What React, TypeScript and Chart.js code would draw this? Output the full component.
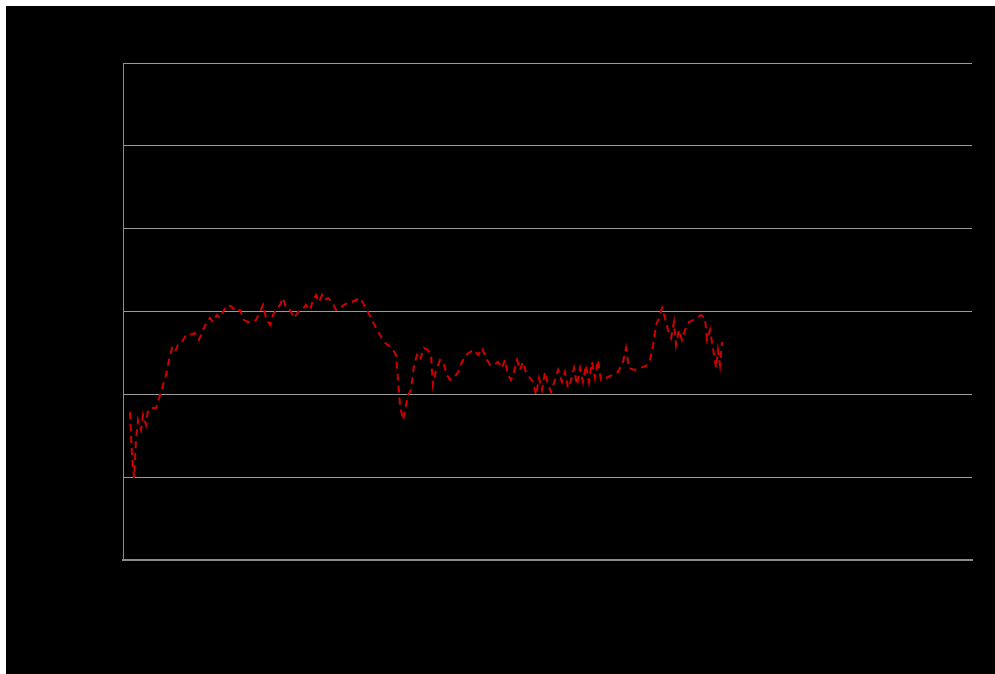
import React, { useEffect, useRef } from "react";
import { Chart, registerables } from "chart.js";

Chart.register(...registerables);

// x positions (percent of the horizontal axis) and values (0-60 scale)
const xValues: number[] = [
  0.82, 1.06, 1.30, 1.53, 1.77, 2.12, 2.36, 2.71, 2.94, 3.42, 3.89, 4.36, 4.71, 5.06, 5.42, 5.77, 6.12, 6.48, 6.95, 7.42,
  7.89, 8.48, 8.95, 9.42, 9.89, 10.25, 10.60, 11.07, 11.43, 11.90, 12.37, 12.84, 13.31, 13.78, 14.25, 14.72, 15.19, 15.66, 16.14, 16.49,
  16.84, 17.31, 17.67, 18.02, 18.49, 18.85, 19.20, 19.67, 20.14, 20.61, 21.08, 21.55, 22.03, 22.38, 22.73, 23.09, 23.44, 23.79, 24.15, 24.62,
  25.09, 25.56, 26.03, 26.50, 26.97, 27.44, 27.92, 28.39, 28.86, 29.33, 29.80, 30.27, 30.74, 31.21, 31.68, 32.16, 32.39, 32.63, 32.98, 33.22,
  33.57, 33.92, 34.28, 34.63, 34.98, 35.45, 35.92, 36.28, 36.51, 36.87, 37.34, 37.81, 38.16, 38.52, 38.99, 39.46, 39.93, 40.40, 40.87, 41.34,
  41.81, 42.29, 42.76, 43.23, 43.70, 44.17, 44.64, 44.99, 45.35, 45.70, 46.05, 46.41, 46.76, 47.11, 47.47, 47.94, 48.29, 48.65, 49.00, 49.35,
  49.71, 50.06, 50.41, 50.88, 51.24, 51.71, 52.06, 52.41, 52.77, 53.12, 53.47, 53.83, 54.18, 54.53, 54.89, 55.24, 55.59, 55.95, 56.30, 56.89,
  57.60, 58.30, 58.89, 59.25, 59.60, 60.19, 60.90, 61.60, 62.07, 62.43, 62.78, 63.13, 63.49, 63.84, 64.19, 64.55, 64.90, 65.14, 65.49, 65.84,
  66.20, 66.67, 67.14, 67.61, 68.08, 68.55, 68.79, 69.14, 69.49, 69.85, 70.08, 70.32, 70.55
];

const yValues: number[] = [
  17.87, 12.68, 9.90, 14.49, 16.90, 15.69, 17.51, 16.30, 18.11, 18.35, 18.35, 19.92, 21.13, 22.33, 24.15, 25.59, 25.11, 25.96, 26.32, 27.16,
  27.16, 27.41, 26.56, 27.77, 28.73, 29.22, 28.73, 29.58, 29.22, 30.18, 30.79, 30.54, 29.94, 30.18, 28.97, 28.73, 28.73, 28.97, 29.94, 30.79,
  29.22, 28.37, 29.58, 30.18, 30.79, 31.63, 30.42, 30.18, 29.22, 29.94, 30.18, 30.79, 30.18, 31.39, 31.99, 31.15, 31.99, 31.39, 31.63, 31.15,
  30.18, 30.42, 30.79, 31.03, 31.15, 31.39, 31.63, 30.79, 29.94, 28.97, 28.01, 27.16, 26.32, 25.96, 25.59, 24.75, 21.73, 18.71, 16.90, 18.11,
  19.92, 20.52, 23.54, 24.75, 24.15, 25.59, 25.35, 24.75, 21.13, 22.94, 24.15, 23.54, 22.33, 21.73, 21.97, 22.70, 23.90, 24.75, 25.11, 25.35,
  24.75, 25.59, 24.39, 23.54, 23.54, 23.90, 23.18, 24.15, 22.33, 21.73, 22.70, 24.15, 22.94, 23.90, 22.70, 21.97, 21.49, 19.92, 21.97, 20.52,
  22.70, 21.13, 20.28, 21.73, 22.94, 21.49, 22.70, 20.77, 21.73, 23.18, 21.13, 23.18, 21.49, 23.54, 21.49, 23.90, 21.97, 24.15, 21.73, 21.97,
  22.33, 22.70, 23.90, 25.59, 23.18, 22.94, 23.18, 23.42, 24.15, 25.96, 28.37, 29.22, 30.42, 29.22, 27.77, 26.80, 28.73, 25.96, 27.77, 26.56,
  27.77, 28.73, 28.97, 29.22, 29.58, 29.22, 26.56, 27.77, 25.59, 23.18, 25.35, 23.54, 26.32
];

const yTicks: number[] = [0, 10, 20, 30, 40, 50, 60];

export default function App() {
  const ref = useRef<HTMLCanvasElement | null>(null);

  useEffect(() => {
    document.body.style.margin = "0";
    const canvas = ref.current;
    if (!canvas) return;
    const n = Math.min(xValues.length, yValues.length);
    const pts = [];
    for (let i = 0; i < n; i++) pts.push({ x: xValues[i], y: yValues[i] });

    const chart = new Chart(canvas, {
      type: "line",
      data: {
        datasets: [
          {
            label: "Series 1",
            data: pts,
            borderColor: "#d00000",
            borderWidth: 2,
            borderDash: [7, 5],
            pointRadius: 0,
            tension: 0,
            fill: false,
          },
        ],
      },
      options: {
        animation: false,
        responsive: false,
        maintainAspectRatio: false,
        layout: { padding: { left: 0, top: 57, right: 23, bottom: 0 } },
        plugins: {
          legend: { display: false },
          tooltip: { enabled: false },
        },
        scales: {
          x: {
            type: "linear",
            min: 0,
            max: 100,
            grid: { display: false, drawTicks: false },
            border: { display: true, color: "#8a8a8a", width: 2 },
            ticks: { color: "#000000", font: { family: "Liberation Sans", size: 12 } },
            afterFit: (s: any) => {
              s.height = 114;
            },
          },
          y: {
            min: 0,
            max: 60,
            afterBuildTicks: (s: any) => {
              s.ticks = yTicks.map((v) => ({ value: v }));
            },
            grid: { color: "#9a9a9a", lineWidth: 1, drawTicks: false },
            border: { display: true, color: "#8a8a8a", width: 1 },
            ticks: { color: "#000000", font: { family: "Liberation Sans", size: 12 } },
            afterFit: (s: any) => {
              s.width = 117;
            },
          },
        },
      },
    });
    return () => chart.destroy();
  }, []);

  return (
    <div
      style={{
        position: "absolute",
        left: 6,
        top: 6,
        width: 989,
        height: 668,
        background: "#000000",
      }}
    >
      <canvas ref={ref} width={989} height={668} style={{ display: "block" }} />
    </div>
  );
}
